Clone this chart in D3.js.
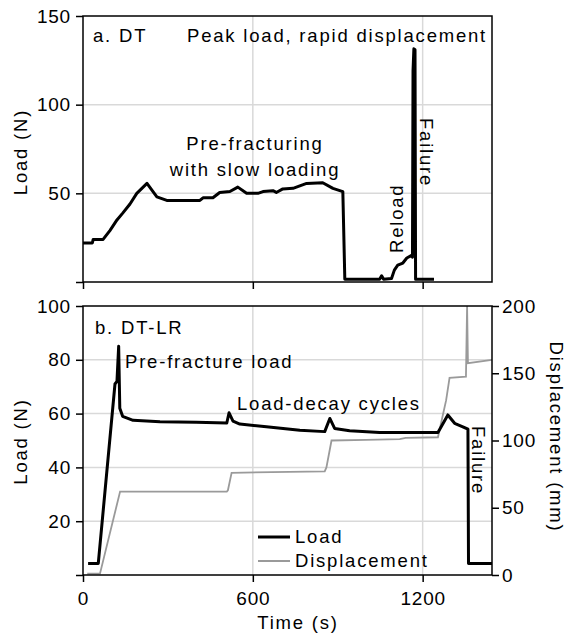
<!DOCTYPE html>
<html>
<head>
<meta charset="utf-8">
<script src="https://cdn.jsdelivr.net/npm/d3@7"></script>
<style>
  body { margin: 0; background: #fff; }
  svg { font-family: "Liberation Sans", Arial, sans-serif; }
</style>
</head>
<body>
<div id="canvas"></div>
<script>
// ---- data ----
// a. DT : load (N) over time (s)
const dtTime = [0, 33, 36, 71, 95, 120, 141, 166, 190, 226, 261, 296, 413, 424, 459, 483, 519, 547, 578, 618, 636, 671, 683, 706, 742, 790, 847, 883, 918, 925, 1000, 1048, 1055, 1062, 1090, 1100, 1112, 1130, 1144, 1161, 1164, 1166, 1169, 1173, 1175, 1240];
const dtLoad = [22, 22, 24, 24, 29, 35, 39, 44, 50, 55.6, 48, 46, 46, 47.5, 47.5, 50.5, 51, 53.5, 50, 50, 51, 51.5, 50.5, 52.5, 52.8, 55.6, 56, 52.8, 51, 1.5, 1.5, 1.5, 3.5, 1.5, 2, 6.7, 9.5, 10.7, 13.5, 15, 14, 119, 131.5, 131, 1.5, 1.5];

// b. DT-LR : load (N) and displacement (mm) over time (s)
const lrTime = [18, 54, 113, 120, 126, 130, 140, 177, 272, 400, 508, 516, 530, 554, 648, 766, 854, 872, 889, 942, 1048, 1254, 1289, 1313, 1342, 1360, 1362, 1445];
const lrLoad = [4.3, 4.3, 71, 72, 85, 62, 59, 57.5, 57, 56.8, 56.5, 60.3, 57.2, 56.1, 55.1, 53.8, 53.3, 58.2, 54.5, 53.6, 53, 53, 59.5, 56.4, 55.1, 54.2, 4.3, 4.3];
const dispTime = [15, 60, 131, 508, 512, 525, 854, 860, 878, 1000, 1119, 1140, 1254, 1283, 1295, 1353, 1357, 1360, 1445];
const dispVal = [1, 1, 62, 62, 63, 76, 77, 80, 100, 100.5, 101, 102, 102.4, 130, 146.5, 147.4, 200, 157.5, 160];

const xTicks = [0, 600, 1200];
const dtTicks = [0, 50, 100, 150];
const lrTicks = [0, 20, 40, 60, 80, 100];
const dispTicks = [0, 50, 100, 150, 200];

// ---- layout ----
const width = 569, height = 639;
const left = 83, right = 492;
const topA = 16, botA = 282;
const topB = 306, botB = 575;
const annot = { size: "18.5px", spacing: "1.8px" };

const svg = d3.select("#canvas").append("svg")
  .attr("width", width).attr("height", height);

const x = d3.scaleLinear().domain([0, 1445]).range([left, right]);
const yA = d3.scaleLinear().domain([0, 150]).range([botA, topA]);
const yB = d3.scaleLinear().domain([0, 100]).range([botB, topB]);
const yD = d3.scaleLinear().domain([0, 200]).range([botB, topB]);

const grid = "#d9d9d9";

function styleAxis(g) {
  g.select(".domain").remove();
  g.selectAll(".tick line").attr("stroke", "#000").attr("stroke-width", 1.5);
  g.selectAll("text").attr("fill", "#000").style("font-size", "19px").style("letter-spacing", "0.8px");
}

function label(txt, px, py, rot, anchor) {
  return svg.append("text")
    .attr("transform", `translate(${px},${py})` + (rot ? ` rotate(${rot})` : ""))
    .attr("text-anchor", anchor || "start")
    .style("font-size", annot.size)
    .style("letter-spacing", annot.spacing)
    .text(txt);
}

svg.append("clipPath").attr("id", "clipB")
  .append("rect").attr("x", left).attr("y", topB).attr("width", right - left).attr("height", botB - topB);

// ---- panel a ----
const gA = svg.append("g");
gA.selectAll(".hg").data([50, 100]).enter().append("line")
  .attr("x1", left).attr("x2", right).attr("y1", d => yA(d)).attr("y2", d => yA(d))
  .attr("stroke", grid).attr("stroke-width", 1.5);
gA.selectAll(".vg").data([600, 1200]).enter().append("line")
  .attr("x1", d => x(d)).attr("x2", d => x(d)).attr("y1", topA).attr("y2", botA)
  .attr("stroke", grid).attr("stroke-width", 1.5);

gA.append("g").attr("transform", `translate(${left},0)`)
  .call(d3.axisLeft(yA).tickValues(dtTicks).tickSize(7).tickPadding(5).tickFormat(d => d === 0 ? "" : d))
  .call(styleAxis);
gA.append("g").attr("transform", `translate(0,${botA})`)
  .call(d3.axisBottom(x).tickValues(xTicks).tickSize(7).tickFormat(""))
  .call(styleAxis);

const lineA = d3.line().x(d => x(d[0])).y(d => yA(d[1]));
gA.append("path").datum(d3.zip(dtTime, dtLoad))
  .attr("d", lineA).attr("fill", "none").attr("stroke", "#000")
  .attr("stroke-width", 3).attr("stroke-linejoin", "round");

gA.append("rect").attr("x", left).attr("y", topA).attr("width", right - left).attr("height", botA - topA)
  .attr("fill", "none").attr("stroke", "#000").attr("stroke-width", 1.5);

// ---- panel b ----
const gB = svg.append("g");
gB.selectAll(".hg").data([20, 40, 60, 80]).enter().append("line")
  .attr("x1", left).attr("x2", right).attr("y1", d => yB(d)).attr("y2", d => yB(d))
  .attr("stroke", grid).attr("stroke-width", 1.5);
gB.selectAll(".vg").data([600, 1200]).enter().append("line")
  .attr("x1", d => x(d)).attr("x2", d => x(d)).attr("y1", topB).attr("y2", botB)
  .attr("stroke", grid).attr("stroke-width", 1.5);

gB.append("g").attr("transform", `translate(${left},0)`)
  .call(d3.axisLeft(yB).tickValues(lrTicks).tickSize(7).tickPadding(5).tickFormat(d => d === 0 ? "" : d))
  .call(styleAxis);
gB.append("g").attr("transform", `translate(${right},0)`)
  .call(d3.axisRight(yD).tickValues(dispTicks).tickSize(7).tickPadding(3))
  .call(styleAxis);
gB.append("g").attr("transform", `translate(0,${botB})`)
  .call(d3.axisBottom(x).tickValues(xTicks).tickSize(7).tickPadding(10).tickFormat(d3.format("d")))
  .call(styleAxis);

const plotB = gB.append("g").attr("clip-path", "url(#clipB)");
plotB.append("path").datum(d3.zip(dispTime, dispVal))
  .attr("d", d3.line().x(d => x(d[0])).y(d => yD(d[1])))
  .attr("fill", "none").attr("stroke", "#9a9a9a").attr("stroke-width", 1.8);
plotB.append("path").datum(d3.zip(lrTime, lrLoad))
  .attr("d", d3.line().x(d => x(d[0])).y(d => yB(d[1])))
  .attr("fill", "none").attr("stroke", "#000").attr("stroke-width", 3).attr("stroke-linejoin", "round");

gB.append("rect").attr("x", left).attr("y", topB).attr("width", right - left).attr("height", botB - topB)
  .attr("fill", "none").attr("stroke", "#000").attr("stroke-width", 1.5);

// legend
const legend = [
  { name: "Load", color: "#000", w: 3, y: 537 },
  { name: "Displacement", color: "#9a9a9a", w: 2, y: 561 }
];
legend.forEach(l => {
  svg.append("line").attr("x1", 258).attr("x2", 290).attr("y1", l.y).attr("y2", l.y)
    .attr("stroke", l.color).attr("stroke-width", l.w);
  label(l.name, 295, l.y + 6);
});

// ---- titles and notes ----
label("Load (N)", 27, (topA + botA) / 2 + 3, -90, "middle");
label("Load (N)", 27, (topB + botB) / 2 + 1, -90, "middle");
label("Displacement (mm)", 550, 437, 90, "middle");
label("Time (s)", 298, 629, 0, "middle");

label("a. DT", 93, 42);
label("Peak load, rapid displacement", 187, 42);
label("Pre-fracturing", 255, 150, 0, "middle");
label("with slow loading", 255, 176, 0, "middle");
label("Reload", 403, 253, -90);
label("Failure", 420, 118, 90);

label("b. DT-LR", 95, 334);
label("Pre-fracture load", 125, 368);
label("Load-decay cycles", 237, 410);
label("Failure", 472, 426, 90);
</script>
</body>
</html>
